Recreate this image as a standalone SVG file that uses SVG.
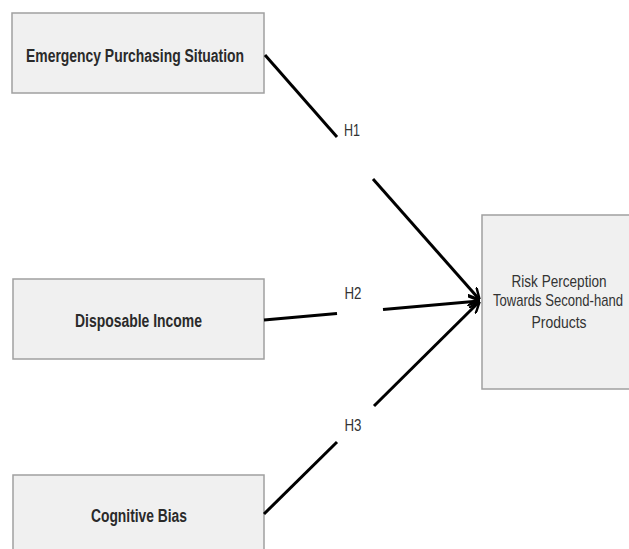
<svg xmlns="http://www.w3.org/2000/svg" width="629" height="549" viewBox="0 0 629 549">
<style>
.box{fill:#f0f0f0;stroke:#a0a0a0;stroke-width:1.5}
.bt{font-family:"Liberation Sans",Arial,sans-serif;font-weight:bold;fill:#2a2a2a;text-anchor:middle;font-size:17.5px}
.rt{font-family:"Liberation Sans",Arial,sans-serif;fill:#333;text-anchor:middle;font-size:13px}
.lbl{font-family:"Liberation Sans",Arial,sans-serif;fill:#333;text-anchor:middle;font-size:16.5px}
.c{stroke:#000;stroke-width:3;fill:none;stroke-linecap:butt}
</style>
<defs>
<marker id="arr" viewBox="0 0 10 10" refX="9" refY="5" markerWidth="4" markerHeight="4" orient="auto" markerUnits="strokeWidth">
<path d="M0,0 L10,5 L0,10" fill="none" stroke="#000" stroke-width="2"/>
</marker>
</defs>
<rect width="629" height="549" fill="#fff"/>
<g id="node-emergency">
<rect class="box" x="12" y="13" width="252" height="80"/>
<text class="bt" x="135" y="61.5" textLength="218" lengthAdjust="spacingAndGlyphs">Emergency Purchasing Situation</text>
</g>
<g id="node-income">
<rect class="box" x="13" y="279" width="251" height="80"/>
<text class="bt" x="138.5" y="327" textLength="127" lengthAdjust="spacingAndGlyphs">Disposable Income</text>
</g>
<g id="node-bias">
<rect class="box" x="13" y="475" width="251" height="90"/>
<text class="bt" x="139" y="522" textLength="96" lengthAdjust="spacingAndGlyphs">Cognitive Bias</text>
</g>
<g id="node-risk">
<rect class="box" x="482" y="215" width="148" height="174"/>
<text class="rt" transform="translate(559,287) scale(1,1.23)" textLength="95" lengthAdjust="spacingAndGlyphs">Risk Perception</text>
<text class="rt" transform="translate(558,305.5) scale(1,1.23)" textLength="130" lengthAdjust="spacingAndGlyphs">Towards Second-hand</text>
<text class="rt" transform="translate(559,327.5) scale(1,1.23)" textLength="55" lengthAdjust="spacingAndGlyphs">Products</text>
</g>
<g id="connectors">
<line class="c" x1="265" y1="55" x2="337" y2="137"/>
<line class="c" x1="373" y1="179" x2="479" y2="299" marker-end="url(#arr)"/>
<line class="c" x1="264" y1="320" x2="337" y2="313.6"/>
<line class="c" x1="383" y1="309.5" x2="479" y2="301" marker-end="url(#arr)"/>
<line class="c" x1="264" y1="514" x2="337" y2="442"/>
<line class="c" x1="374" y1="406" x2="479" y2="302" marker-end="url(#arr)"/>
<text class="lbl" x="352" y="136" textLength="16" lengthAdjust="spacingAndGlyphs">H1</text>
<text class="lbl" x="353" y="299" textLength="17" lengthAdjust="spacingAndGlyphs">H2</text>
<text class="lbl" x="353" y="431" textLength="17" lengthAdjust="spacingAndGlyphs">H3</text>
</g>
</svg>
